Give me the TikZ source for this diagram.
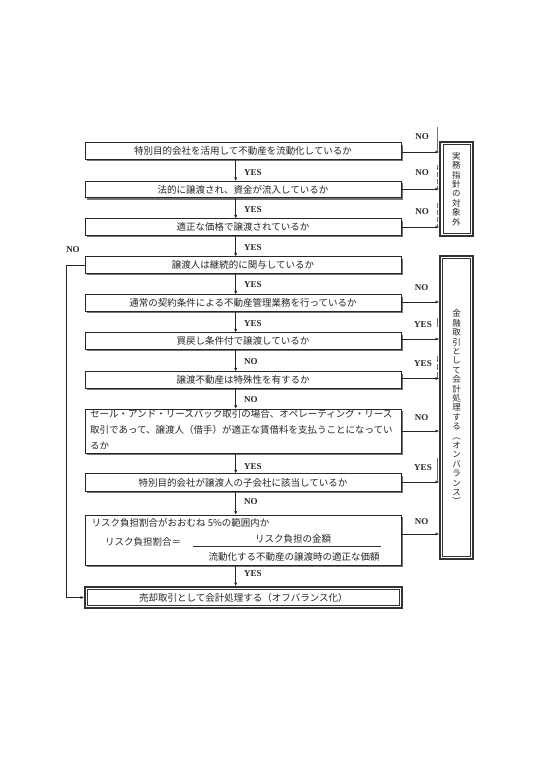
\documentclass[tikz,border=0pt]{standalone}
\usepackage{fontspec}
\setmainfont{Liberation Serif}
\newfontfamily\jp{Noto Sans CJK JP}
\usetikzlibrary{arrows.meta,calc,shadows}
\begin{document}
\begin{tikzpicture}[x=1pt,y=-1pt,
  qbox/.style={draw=black!85, line width=0.6pt, fill=white, minimum width=316pt,
    minimum height=16.5pt, inner sep=0pt, text=black!85,
    font=\jp\fontsize{9.5}{11}\selectfont,
    drop shadow={shadow xshift=2pt, shadow yshift=-2pt, fill=black!55, opacity=1}},
  dbox/.style={draw=black!80, line width=1.8pt, fill=white, inner sep=0pt,
    text=black!85, font=\jp\fontsize{9.5}{11}\selectfont},
  vbox/.style={dbox, align=center, font=\jp\fontsize{8.5}{9.4}\selectfont},
  arr/.style={-{Latex[length=3.5pt,width=3pt]}, line width=0.5pt, draw=black!85},
  lbl/.style={font=\bfseries\fontsize{9}{10}\selectfont, text=black!85, inner sep=0pt},
  jtxt/.style={font=\jp\fontsize{9.5}{11}\selectfont, text=black!85, inner sep=0pt},
  tickmark/.style={draw=black!55, line width=0.5pt}
]
\useasboundingbox (0,0) rectangle (540,764);

% question boxes
\node[qbox] (b1) at (243,151) {特別目的会社を活用して不動産を流動化しているか};
\node[qbox] (b2) at (243,189.5) {法的に譲渡され、資金が流入しているか};
\node[qbox] (b3) at (243,227) {適正な価格で譲渡されているか};
\node[qbox] (b4) at (243,265) {譲渡人は継続的に関与しているか};
\node[qbox] (b5) at (243,303) {通常の契約条件による不動産管理業務を行っているか};
\node[qbox] (b6) at (243,341) {買戻し条件付で譲渡しているか};
\node[qbox] (b7) at (243,380) {譲渡不動産は特殊性を有するか};
\node[qbox, minimum height=44pt] (b8) at (243,431) {};
\begin{scope}
  \clip (85,409) rectangle (401,448.5);
  \node[jtxt, anchor=west] (b8a) at (90,414) {セール・アンド・リースバック取引の場合、オペレーティング・リース};
  \node[jtxt, anchor=west] (b8b) at (90,430) {取引であって、譲渡人（借手）が適正な賃借料を支払うことになってい};
  \node[jtxt, anchor=west] (b8c) at (90,446) {るか};
\end{scope}
\node[qbox, minimum height=17.5pt] (b9) at (243,482.5) {特別目的会社が譲渡人の子会社に該当しているか};
\node[qbox, minimum height=50pt] (b10) at (243,540) {};
\node[jtxt, anchor=west] (b10a) at (91.5,523) {リスク負担割合がおおむね 5\%の範囲内か};
\node[jtxt, anchor=west] (b10b) at (105,542) {リスク負担割合＝};
\coordinate (fl) at (193,546);
\coordinate (fr) at (381,546);
\draw[black!80, line width=0.6pt] (fl) -- (fr);
\node[jtxt] (b10n) at (293,538.5) {リスク負担の金額};
\node[jtxt] (b10d) at (294,556.5) {流動化する不動産の譲渡時の適正な価額};

% final box
\node[dbox, minimum width=316.7pt, minimum height=21pt] (b11) at (243.3,597.5) {売却取引として会計処理する（オフバランス化）};
\draw[black!80, line width=0.5pt] ($(b11.north west)+(3.6,3.6)$) rectangle ($(b11.south east)+(-3.6,-3.6)$);

% right boxes
\node[vbox, minimum width=32.7pt, minimum height=94.3pt] (r1) at (456.4,189) {実\\務\\指\\針\\の\\対\\象\\外};
\draw[black!80, line width=0.5pt] ($(r1.north west)+(3.6,3.6)$) rectangle ($(r1.south east)+(-3.6,-3.6)$);
\node[vbox, minimum width=33pt, minimum height=303pt] (r2) at (456.5,407.3) {金\\融\\取\\引\\と\\し\\て\\会\\計\\処\\理\\す\\る\\︵\\オ\\ン\\バ\\ラ\\ン\\ス\\︶};
\draw[black!80, line width=0.5pt] ($(r2.north west)+(3.6,3.6)$) rectangle ($(r2.south east)+(-3.6,-3.6)$);

% down arrows
\coordinate (ax) at (235.7,0);
\draw[arr] (b1.south -| ax) -- (b2.north -| ax);
\draw[arr] (b2.south -| ax) -- (b3.north -| ax);
\draw[arr] (b3.south -| ax) -- (b4.north -| ax);
\draw[arr] (b4.south -| ax) -- (b5.north -| ax);
\draw[arr] (b5.south -| ax) -- (b6.north -| ax);
\draw[arr] (b6.south -| ax) -- (b7.north -| ax);
\draw[arr] (b7.south -| ax) -- (b8.north -| ax);
\draw[arr] (b8.south -| ax) -- (b9.north -| ax);
\draw[arr] (b9.south -| ax) -- (b10.north -| ax);
\draw[arr] (b10.south -| ax) -- (b11.north -| ax);

\node[lbl, anchor=west] (l1) at (244,172.7) {YES};
\node[lbl, anchor=west] (l2) at (244,210) {YES};
\node[lbl, anchor=west] (l3) at (244,247.7) {YES};
\node[lbl, anchor=west] (l4) at (244,285) {YES};
\node[lbl, anchor=west] (l5) at (244,323.3) {YES};
\node[lbl, anchor=west] (l6) at (244,361.7) {NO};
\node[lbl, anchor=west] (l7) at (244,399.3) {NO};
\node[lbl, anchor=west] (l8) at (244,466.7) {YES};
\node[lbl, anchor=west] (l9) at (244,501.7) {NO};
\node[lbl, anchor=west] (l10) at (244,573.3) {YES};

% right arrows
\draw[arr] (b1.east |- 0,152) -- (r1.west |- 0,152);
\draw[arr] (b2.east |- 0,189) -- (r1.west |- 0,189);
\draw[arr] (b3.east |- 0,227) -- (r1.west |- 0,227);
\draw[arr] (b5.east |- 0,302) -- (r2.west |- 0,302);
\draw[arr] (b6.east |- 0,339) -- (r2.west |- 0,339);
\draw[arr] (b7.east |- 0,378.5) -- (r2.west |- 0,378.5);
\draw[arr] (b8.east |- 0,431) -- (r2.west |- 0,431);
\draw[arr] (b9.east |- 0,482) -- (r2.west |- 0,482);
\draw[arr] (b10.east |- 0,534) -- (r2.west |- 0,534);

\node[lbl] (n1) at (422,137) {NO};
\node[lbl] (n2) at (422,173) {NO};
\node[lbl] (n3) at (422,211.7) {NO};
\node[lbl] (n4) at (421.5,287.7) {NO};
\node[lbl] (n5) at (423,325) {YES};
\node[lbl] (n6) at (423,364) {YES};
\node[lbl] (n7) at (421.5,418) {NO};
\node[lbl] (n8) at (423,467.7) {YES};
\node[lbl] (n9) at (421.5,521.7) {NO};

% small marks beside the labels
\draw[tickmark] (437.5,127) -- (437.5,151);
\draw[tickmark, dash pattern=on 5pt off 2pt] (437.5,165) -- (437.5,188);
\draw[tickmark, dash pattern=on 5pt off 2pt] (437.5,203) -- (437.5,226);
\draw[tickmark] (437,318) -- (437,327);
\draw[tickmark, dash pattern=on 6pt off 2pt] (437,356) -- (437,377.5);
\draw[tickmark] (437,458) -- (437,481);

% left loop (NO)
\coordinate (lp) at (66.7,0);
\node[lbl] (n0) at (73,250) {NO};
\draw[arr] (b4.west) -- (b4.west -| lp) |- (b11.west);
\end{tikzpicture}
\end{document}
